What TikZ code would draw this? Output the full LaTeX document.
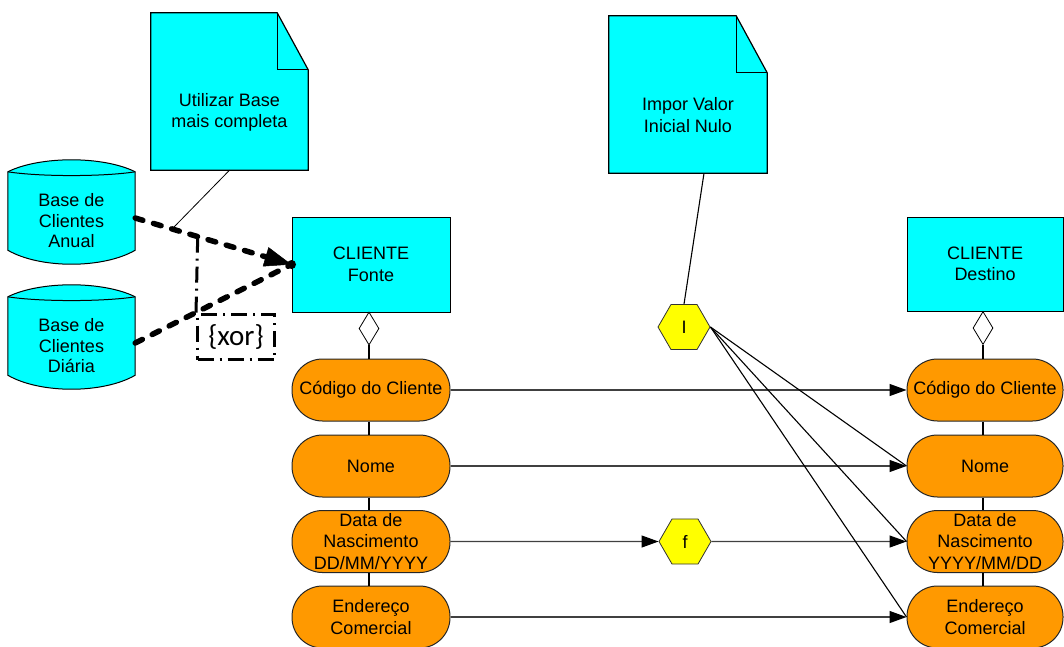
\documentclass[tikz,border=0pt]{standalone}
\usepackage{fontspec}
\setmainfont{Liberation Sans}
\newfontfamily\xorfont{Carlito}
\usetikzlibrary{arrows.meta,shapes.geometric,calc}
\definecolor{boxcyan}{HTML}{00FFFF}
\definecolor{attrorange}{HTML}{FF9900}
\definecolor{funcyellow}{HTML}{FFFF00}

% database cylinder drawn around a body node (north = rim level, south = lowest point)
\newcommand\drawcyl[1]{%
  \filldraw[fill=boxcyan,draw=black,line width=1pt]
    (#1.north west) .. controls ($(#1.north west)+(32,-16)$) and ($(#1.north east)+(-32,-16)$) .. (#1.north east)
    -- ($(#1.south east)+(0,-14)$)
    .. controls ($(#1.south east)+(-32,4.7)$) and ($(#1.south west)+(32,4.7)$) .. ($(#1.south west)+(0,-14)$)
    -- cycle;
  \draw[black,line width=1pt]
    (#1.north west) .. controls ($(#1.north west)+(32,5)$) and ($(#1.north east)+(-32,5)$) .. (#1.north east);}

% note sheet with a folded top-right corner
\newcommand\drawnote[1]{%
  \filldraw[fill=boxcyan,draw=black,line width=1.2pt,line join=miter]
    (#1.north west) -- ($(#1.north east)+(-31,0)$) -- ($(#1.north east)+(0,57)$)
    -- (#1.south east) -- (#1.south west) -- cycle;
  \draw[black,line width=1.2pt]
    ($(#1.north east)+(-31,0)$) -- ($(#1.north east)+(-31,57)$) -- ($(#1.north east)+(0,57)$);}

\begin{document}
\begin{tikzpicture}[x=1pt,y=-1pt,
  every node/.style={font=\fontsize{18}{21.5}\selectfont, align=center, inner sep=0pt},
  entity/.style={draw=black, line width=1pt, fill=boxcyan, minimum width=158pt, minimum height=95pt},
  attr/.style={draw=black!85, line width=1pt, fill=attrorange, rounded corners=30.5pt,
    minimum width=158pt, minimum height=62pt},
  func/.style={draw=black!80, line width=0.8pt, fill=funcyellow, regular polygon,
    regular polygon sides=6, minimum size=52pt},
  agg/.style={draw=black, line width=0.8pt, fill=white, diamond, minimum width=20pt, minimum height=33pt},
  body/.style={minimum width=#1, minimum height=157pt},
  cylbody/.style={minimum width=127pt, minimum height=92pt, font=\fontsize{18}{20.5}\selectfont},
  link/.style={draw=black!75, line width=1.2pt},
  flow/.style={link, -{Triangle[length=17pt,width=12pt,color=black]}},
  feed/.style={draw=black, line width=1.1pt},
  choice/.style={draw=black, line width=5.5pt, line cap=round, dash pattern=on 8pt off 11pt},
  xorline/.style={draw=black, line width=3pt, dash pattern=on 16pt off 6pt on 2pt off 6pt},
]
\useasboundingbox (0,0) rectangle (1064,646);

% source databases
\node[cylbody] (db1) at (71.5,218) {};
\drawcyl{db1}
\node[cylbody] at (71.5,221) (db1t) {Base de\\Clientes\\Anual};
\node[cylbody] (db2) at (71.5,343) {};
\drawcyl{db2}
\node[cylbody] at (71.5,346) (db2t) {Base de\\Clientes\\Diária};

% notes
\node[body=157pt] (n1) at (229.5,91.5) {};
\drawnote{n1}
\node (n1t) at (229.5,112.5) {Utilizar Base\\mais completa};
\node[body=158pt] (n2) at (688,94.5) {};
\drawnote{n2}
\node (n2t) at (688,115) {Impor Valor\\Inicial Nulo};

% entities
\node[entity] (cf) at (371,264.5) {CLIENTE\\Fonte};
\node[entity, minimum width=156pt, minimum height=94pt] (cd) at (985,264) {CLIENTE\\Destino};

% aggregation diamonds
\node[agg] (df) at (369,328.5) {};
\node[agg] (dd) at (983,328) {};

% attributes
\node[attr] (a1) at (371,390) {Código do Cliente};
\node[attr] (a2) at (371,466) {Nome};
\node[attr] (a3) at (371,541.5) {Data de\\Nascimento\\DD/MM/YYYY};
\node[attr] (a4) at (371,617) {Endereço\\Comercial};
\node[attr, minimum width=156pt] (b1) at (985,390) {Código do Cliente};
\node[attr, minimum width=156pt] (b2) at (985,466) {Nome};
\node[attr, minimum width=156pt] (b3) at (985,541.5) {Data de\\Nascimento\\YYYY/MM/DD};
\node[attr, minimum width=156pt] (b4) at (985,617) {Endereço\\Comercial};

% attribute chains
\draw[feed] (df.south) -- (df.south |- a1.north);
\draw[feed] (df.south |- a1.south) -- (df.south |- a2.north);
\draw[feed] (df.south |- a2.south) -- (df.south |- a3.north);
\draw[feed] (df.south |- a3.south) -- (df.south |- a4.north);
\draw[feed] (dd.south) -- (dd.south |- b1.north);
\draw[feed] (dd.south |- b1.south) -- (dd.south |- b2.north);
\draw[feed] (dd.south |- b2.south) -- (dd.south |- b3.north);
\draw[feed] (dd.south |- b3.south) -- (dd.south |- b4.north);

% transformation functions
\node[func] (hi) at (684,327) {I};
\node[func] (hf) at (685,541.5) {f};

% mappings
\draw[flow] (a1) -- (b1);
\draw[flow] (a2) -- (b2);
\draw[flow] (a3) -- (hf);
\draw[flow] (hf) -- (b3);
\draw[flow] (a4) -- (b4);
\draw[feed] (hi.east) -- (b2.west);
\draw[feed] (hi.east) -- (b3.west);
\draw[feed] (hi.east) -- (b4.west);
\draw[feed] ($(n2.south)+(16,0)$) -- (hi.north);

% alternative sources
\draw[choice, -{Triangle[length=27pt,width=20pt,line width=0.5pt]}]
  (db1.east) -- coordinate[pos=0.236] (hook) coordinate[pos=0.40] (xa) (cf.west);
\draw[choice] (db2.east) -- (cf.west);
\fill (cf.west) circle[radius=4.5pt];
\draw[feed, line width=0.8pt] (n1.south) -- (hook);

% xor constraint
\node[xorline, minimum width=77pt, minimum height=45pt,
  font=\xorfont\fontsize{29}{32}\selectfont] (xor) at (236,337) {\{xor\}};
\draw[xorline] (xa) -- (xor.north west);
\end{tikzpicture}
\end{document}
